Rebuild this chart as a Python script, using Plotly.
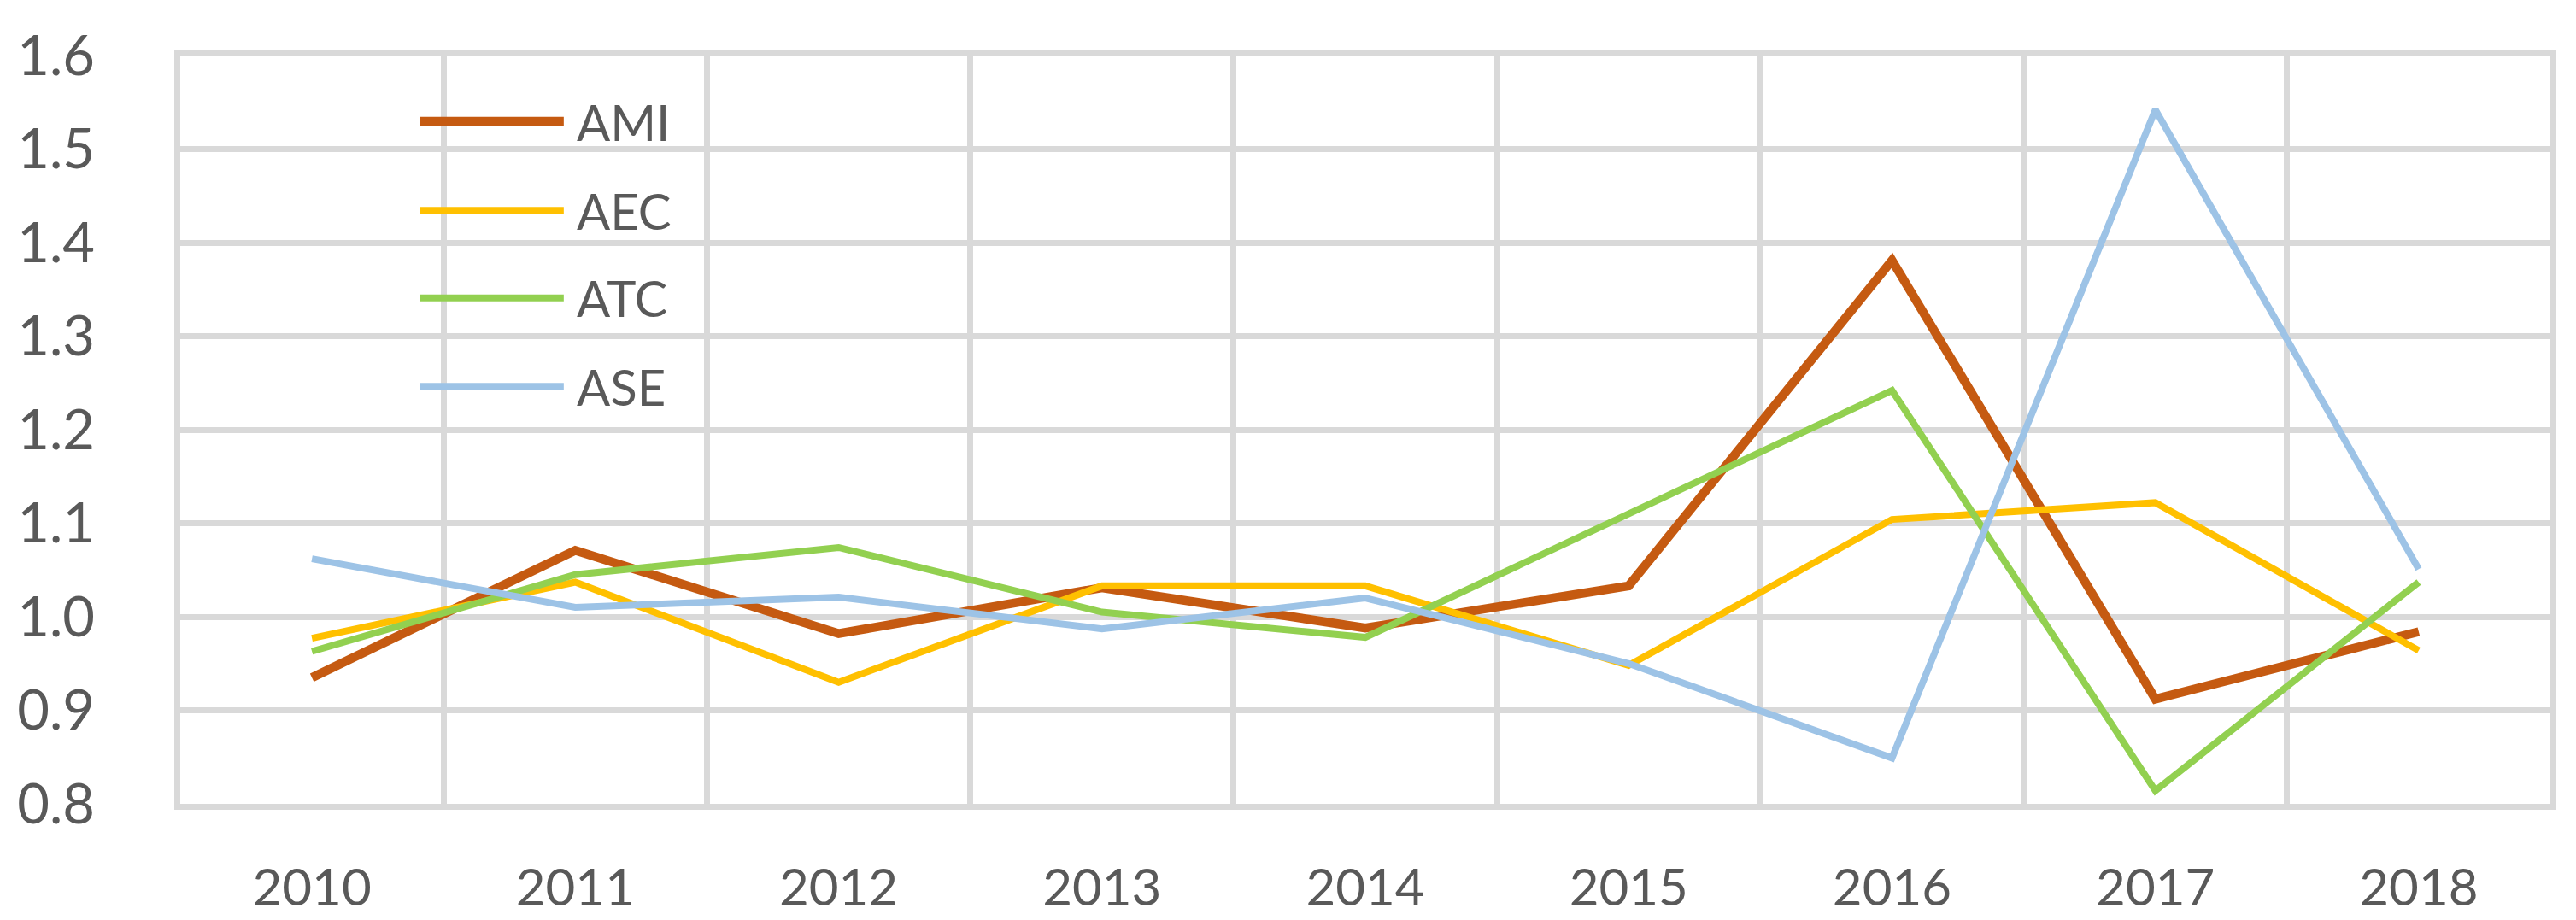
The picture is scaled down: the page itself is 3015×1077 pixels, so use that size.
import plotly.graph_objects as go

years = ["2010", "2011", "2012", "2013", "2014", "2015", "2016", "2017", "2018"]
ami = [0.935, 1.071, 0.982, 1.031, 0.988, 1.033, 1.381, 0.912, 0.984]
aec = [0.977, 1.037, 0.930, 1.033, 1.033, 0.948, 1.104, 1.122, 0.964]
atc = [0.963, 1.045, 1.074, 1.005, 0.978, 1.109, 1.242, 0.814, 1.037]
ase = [1.062, 1.010, 1.021, 0.987, 1.020, 0.950, 0.849, 1.542, 1.051]

names = ["AMI", "AEC", "ATC", "ASE"]
series = [ami, aec, atc, ase]
colors = ["#C55A11", "#FFC000", "#92D050", "#9DC3E6"]
widths = [10.5, 8, 8, 8]

FONT = "Lato"
TXT = "#595959"
GRID = "#D9D9D9"

fig = go.Figure()
for n, s, c, w in zip(names, series, colors, widths):
    fig.add_trace(go.Scatter(x=years, y=s, name=n, mode="lines",
                             line=dict(color=c, width=w), showlegend=False))

# custom legend (long line samples like the original)
leg_y = [0.912, 0.793, 0.676, 0.558]
for n, c, w, ly in zip(names, colors, widths, leg_y):
    fig.add_shape(type="line", xref="paper", yref="paper",
                  x0=0.1013, x1=0.1618, y0=ly, y1=ly,
                  line=dict(color=c, width=w))
    fig.add_annotation(x=0.1665, y=ly, xref="paper", yref="paper", text=n,
                       showarrow=False, xanchor="left", yanchor="middle",
                       font=dict(family=FONT, size=58, color=TXT))

fig.update_layout(
    width=3015, height=1077,
    margin=dict(l=200, r=38, t=57, b=140),
    paper_bgcolor="white", plot_bgcolor="white",
    font=dict(family=FONT, color=TXT),
)
fig.update_xaxes(type="category", tickson="boundaries", range=[-0.5, 8.5],
                 showgrid=True,
                 gridcolor=GRID, gridwidth=7, showline=True, linecolor=GRID,
                 linewidth=7, mirror=True, ticks="", ticklabelstandoff=40,
                 tickfont=dict(family=FONT, size=60, color=TXT))
fig.update_yaxes(range=[0.8, 1.6], dtick=0.1, tickformat=".1f", showgrid=True,
                 gridcolor=GRID, gridwidth=7, showline=True, linecolor=GRID,
                 linewidth=7, mirror=True, zeroline=False, ticks="",
                 ticklabelstandoff=80,
                 tickfont=dict(family=FONT, size=65, color=TXT))

fig.write_html("out.html")
